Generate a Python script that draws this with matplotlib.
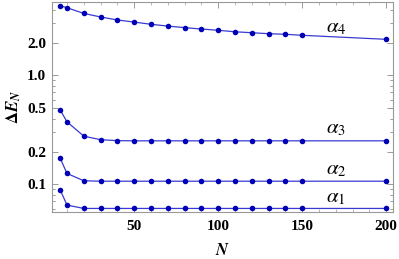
import matplotlib
matplotlib.use("Agg")
import matplotlib.pyplot as plt
from matplotlib.ticker import FixedLocator, NullFormatter, MultipleLocator, LogLocator

plt.rcParams['font.family'] = ['Liberation Serif', 'DejaVu Serif']
plt.rcParams['mathtext.fontset'] = 'stix'

N = [6, 10, 20, 30, 40, 50, 60, 70, 80, 90, 100, 110, 120, 130, 140, 150, 200]
alpha4 = [4.35, 4.17, 3.70, 3.43, 3.22, 3.08, 2.94, 2.83, 2.74, 2.66, 2.59, 2.51, 2.46, 2.41, 2.38, 2.33, 2.14]
alpha3 = [0.480, 0.375, 0.277, 0.257, 0.252, 0.251, 0.251, 0.251, 0.251, 0.251, 0.251, 0.251, 0.251, 0.251, 0.251, 0.251, 0.251]
alpha2 = [0.173, 0.126, 0.108, 0.107, 0.107, 0.107, 0.107, 0.107, 0.107, 0.107, 0.107, 0.107, 0.107, 0.107, 0.107, 0.107, 0.107]
alpha1 = [0.0887, 0.0646, 0.0602, 0.0602, 0.0602, 0.0602, 0.0602, 0.0602, 0.0602, 0.0602, 0.0602, 0.0602, 0.0602, 0.0602, 0.0602, 0.0602, 0.0602]
series = [alpha1, alpha2, alpha3, alpha4]
labels = [r'$\alpha_1$', r'$\alpha_2$', r'$\alpha_3$', r'$\alpha_4$']
label_pos = [(170, 0.062), (170, 0.111), (170, 0.262), (170, 2.22)]
yticks = [0.1, 0.2, 0.5, 1.0, 2.0]
yticklabels = ['0.1', '0.2', '0.5', '1.0', '2.0']
xticks = [50, 100, 150, 200]

fig = plt.figure(figsize=(3.99, 2.59), dpi=100)
ax = fig.add_axes([0.130, 0.181, 0.855, 0.811])

for s in series:
    ax.plot(N, s, '-', color='#3a3ad0', lw=0.9, zorder=2)
    ax.plot(N, s, 'o', color='#0000b4', ms=4.0, mec='none', zorder=3)

for lab, (x, y) in zip(labels, label_pos):
    ax.text(x, y, lab, fontsize=15, ha='center', va='bottom', color='black')

ax.set_yscale('log')
ax.set_xlim(1, 204)
ax.set_ylim(0.0557, 4.70)
ax.yaxis.set_major_locator(FixedLocator(yticks))
ax.set_yticklabels(yticklabels)
ax.yaxis.set_minor_locator(LogLocator(base=10, subs=[0.1*i for i in range(1, 10)] + list(range(1, 10)), numticks=20))
ax.yaxis.set_minor_formatter(NullFormatter())
ax.xaxis.set_major_locator(FixedLocator(xticks))
ax.xaxis.set_minor_locator(MultipleLocator(10))

for sp in ax.spines.values():
    sp.set_color('#999999')
    sp.set_linewidth(0.8)
ax.tick_params(which='both', direction='in', top=True, right=True, color='#999999')
ax.tick_params(which='major', length=4, width=0.7)
ax.tick_params(which='minor', length=2, width=0.5)
for t in ax.get_xticklabels() + ax.get_yticklabels():
    t.set_fontweight('bold')
    t.set_fontsize(11)
ax.tick_params(axis='x', pad=6)
ax.tick_params(axis='y', pad=4)

ax.set_xlabel(r'$\boldsymbol{N}$', fontsize=12, labelpad=7)
ax.set_ylabel(r'$\mathbf{\Delta}\boldsymbol{E}_{\boldsymbol{N}}$', fontsize=12, labelpad=3)

fig.savefig('out.png', dpi=100)
